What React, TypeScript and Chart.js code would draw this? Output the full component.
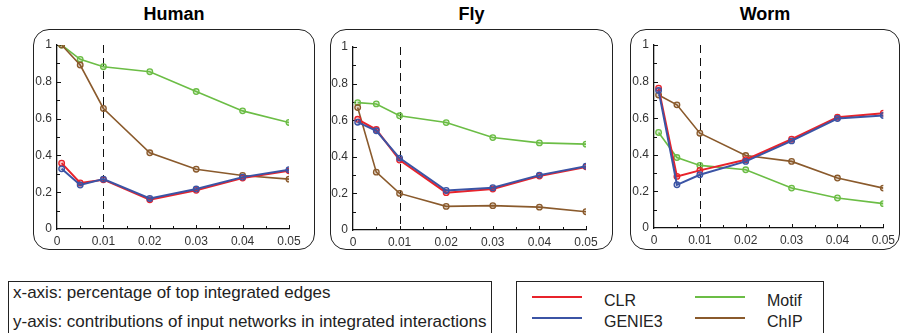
import React, { useEffect, useRef } from "react";
import { Chart, registerables } from "chart.js";

Chart.register(...registerables);

const FONT = "'Liberation Sans', Arial, sans-serif";

const xValues = [0.001, 0.005, 0.01, 0.02, 0.03, 0.04, 0.05];
const seriesNames = ["CLR", "GENIE3", "Motif", "ChIP"];
const seriesColors = ["#e8232b", "#3b54a5", "#6bbd45", "#8a5a2c"];
const seriesFills = ["rgba(232,35,43,0.25)", "rgba(59,84,165,0.25)", "rgba(107,189,69,0.25)", "rgba(138,90,44,0.25)"];

const humanCLR = [0.358, 0.25, 0.268, 0.159, 0.21, 0.277, 0.316];
const humanGENIE3 = [0.327, 0.239, 0.271, 0.166, 0.217, 0.282, 0.322];
const humanMotif = [1.0, 0.922, 0.882, 0.855, 0.747, 0.642, 0.579];
const humanChIP = [1.0, 0.891, 0.655, 0.414, 0.325, 0.291, 0.271];

const flyCLR = [0.605, 0.549, 0.382, 0.204, 0.224, 0.295, 0.345];
const flyGENIE3 = [0.589, 0.542, 0.393, 0.216, 0.231, 0.3, 0.349];
const flyMotif = [0.696, 0.689, 0.624, 0.587, 0.505, 0.476, 0.469];
const flyChIP = [0.669, 0.316, 0.2, 0.129, 0.133, 0.125, 0.1];

const wormCLR = [0.764, 0.282, 0.315, 0.373, 0.485, 0.605, 0.627];
const wormGENIE3 = [0.751, 0.236, 0.291, 0.364, 0.476, 0.598, 0.615];
const wormMotif = [0.522, 0.385, 0.342, 0.318, 0.218, 0.164, 0.133];
const wormChIP = [0.727, 0.673, 0.518, 0.396, 0.364, 0.273, 0.218];

const xTickStep = 0.01;
const yTickStep = 0.2;
const cutoffX = 0.01;

type PanelSpec = {
  title: string;
  series: number[][];
  box: { left: number; top: number; width: number; height: number };
  yw: number;
  xh: number;
  padTop: number;
  padRight: number;
};

const panels: PanelSpec[] = [
  { title: "Human", series: [humanCLR, humanGENIE3, humanMotif, humanChIP], box: { left: 33, top: 29, width: 282, height: 221 }, yw: 24, xh: 21, padTop: 16, padRight: 26 },
  { title: "Fly", series: [flyCLR, flyGENIE3, flyMotif, flyChIP], box: { left: 330, top: 29, width: 283, height: 221 }, yw: 23, xh: 20, padTop: 18, padRight: 27 },
  { title: "Worm", series: [wormCLR, wormGENIE3, wormMotif, wormChIP], box: { left: 630, top: 29, width: 270, height: 221 }, yw: 24, xh: 22, padTop: 16, padRight: 13 },
];

const decoPlugin = {
  id: "deco",
  beforeDatasetsDraw(chart: any) {
    const { ctx, chartArea, scales } = chart;
    const xs = scales.x;
    const ys = scales.y;
    ctx.save();
    ctx.strokeStyle = "#111";
    ctx.lineWidth = 1;
    for (let i = 1; i <= 10; i++) {
      const y = Math.round(ys.getPixelForValue(i / 10)) + 0.5;
      ctx.beginPath();
      ctx.moveTo(chartArea.left, y);
      ctx.lineTo(chartArea.left + (i % 2 === 0 ? 4 : 3), y);
      ctx.stroke();
    }
    for (let i = 1; i <= 10; i++) {
      const x = Math.round(xs.getPixelForValue(i * 0.005)) + 0.5;
      ctx.beginPath();
      ctx.moveTo(x, chartArea.bottom);
      ctx.lineTo(x, chartArea.bottom - (i % 2 === 0 ? 4 : 3));
      ctx.stroke();
    }
    const cx = Math.round(xs.getPixelForValue(cutoffX)) + 0.5;
    ctx.setLineDash([8, 5]);
    ctx.beginPath();
    ctx.moveTo(cx, chartArea.top);
    ctx.lineTo(cx, chartArea.bottom);
    ctx.stroke();
    ctx.restore();
  },
};

function Panel({ spec }: { spec: PanelSpec }) {
  const ref = useRef<HTMLCanvasElement | null>(null);
  useEffect(() => {
    if (!ref.current) return;
    const datasets = spec.series.map((vals, i) => ({
      label: seriesNames[i],
      data: vals.map((v, j) => ({ x: xValues[j], y: v })),
      borderColor: seriesColors[i],
      backgroundColor: seriesFills[i],
      pointBackgroundColor: seriesFills[i],
      pointBorderColor: seriesColors[i],
      borderWidth: i < 2 ? 2 : 1.6,
      pointRadius: 2.8,
      pointBorderWidth: 1.3,
      tension: 0,
      order: i < 2 ? 2 - i : 10 - i,
    }));
    const chart = new Chart(ref.current, {
      type: "line",
      data: { datasets },
      plugins: [decoPlugin],
      options: {
        animation: false,
        responsive: false,
        layout: { padding: { top: spec.padTop, right: spec.padRight, left: 0, bottom: 0 } },
        plugins: { legend: { display: false }, tooltip: { enabled: false } },
        scales: {
          x: {
            type: "linear",
            min: 0,
            max: 0.05,
            grid: { display: false, drawTicks: false },
            border: { display: true, color: "#111", width: 1.3 },
            ticks: {
              stepSize: xTickStep,
              padding: 5,
              color: "#333",
              maxRotation: 0,
              autoSkip: false,
              font: { size: 12, family: FONT },
              callback: (v: any) => (Math.abs(v) < 1e-9 ? "0" : Number(v).toFixed(2)),
            },
            afterFit: (s: any) => {
              s.height = spec.xh;
            },
          },
          y: {
            type: "linear",
            min: 0,
            max: 1,
            grid: { display: false, drawTicks: false },
            border: { display: true, color: "#111", width: 1.3 },
            ticks: {
              stepSize: yTickStep,
              padding: 5,
              color: "#333",
              font: { size: 12, family: FONT },
              callback: (v: any) => (Math.abs(v) < 1e-9 ? "0" : Math.abs(v - 1) < 1e-9 ? "1" : Number(v).toFixed(1)),
            },
            afterFit: (s: any) => {
              s.width = spec.yw;
            },
          },
        },
      } as any,
    });
    return () => chart.destroy();
  }, [spec]);

  const b = spec.box;
  return (
    <>
      <div
        style={{
          position: "absolute",
          left: b.left,
          top: 4,
          width: b.width,
          textAlign: "center",
          font: `bold 18px ${FONT}`,
          lineHeight: "20px",
          color: "#000",
        }}
      >
        {spec.title}
      </div>
      <div
        style={{
          position: "absolute",
          left: b.left,
          top: b.top,
          width: b.width,
          height: b.height,
          boxSizing: "border-box",
          border: "1.5px solid #222",
          borderRadius: 16,
        }}
      />
      <canvas
        ref={ref}
        width={b.width}
        height={b.height}
        style={{ position: "absolute", left: b.left, top: b.top, width: b.width, height: b.height }}
      />
    </>
  );
}

export default function App() {
  return (
    <div
      style={{
        position: "fixed",
        left: 0,
        top: 0,
        width: 902,
        height: 333,
        background: "#fff",
        overflow: "hidden",
        fontFamily: FONT,
      }}
    >
      {panels.map((p) => (
        <Panel key={p.title} spec={p} />
      ))}
      <div
        style={{
          position: "absolute",
          left: 8,
          top: 281,
          width: 484,
          height: 70,
          boxSizing: "border-box",
          border: "1.3px solid #222",
          color: "#222",
          fontSize: 17,
        }}
      >
        <div style={{ position: "absolute", left: 4, top: 1, whiteSpace: "nowrap", lineHeight: "20px" }}>
          x-axis: percentage of top integrated edges
        </div>
        <div style={{ position: "absolute", left: 4, top: 30, whiteSpace: "nowrap", lineHeight: "20px" }}>
          y-axis: contributions of input networks in integrated interactions
        </div>
      </div>
      <div
        style={{
          position: "absolute",
          left: 516,
          top: 281,
          width: 308,
          height: 70,
          boxSizing: "border-box",
          border: "1.3px solid #222",
          color: "#222",
          fontSize: 16,
        }}
      >
        {seriesNames.map((name, i) => {
          const col = Math.floor(i / 2);
          const row = i % 2;
          return (
            <React.Fragment key={name}>
              <div
                style={{
                  position: "absolute",
                  left: 15 + col * 163,
                  top: 14 + row * 21,
                  width: 50,
                  height: 2,
                  background: seriesColors[i],
                }}
              />
              <div
                style={{
                  position: "absolute",
                  left: 87 + col * 163,
                  top: 10 + row * 21,
                  lineHeight: "18px",
                  whiteSpace: "nowrap",
                }}
              >
                {name}
              </div>
            </React.Fragment>
          );
        })}
      </div>
    </div>
  );
}
